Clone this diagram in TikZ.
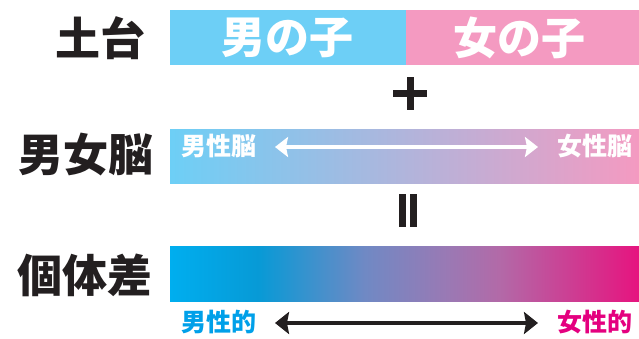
\documentclass[tikz,border=0pt]{standalone}
\usepackage{fontspec}
\usetikzlibrary{arrows.meta}
\newfontfamily\cjkblk{Noto Sans CJK JP Black}
\newfontfamily\cjkbold{Noto Sans CJK JP Bold}
\definecolor{boyblue}{HTML}{6DCFF6}
\definecolor{girlpink}{HTML}{F49AC1}
\definecolor{labelgray}{HTML}{231F20}
\definecolor{cA}{HTML}{00AEEF}
\definecolor{cB}{HTML}{079AD6}
\definecolor{cC}{HTML}{7089C4}
\definecolor{cD}{HTML}{9A79B4}
\definecolor{cE}{HTML}{B26AA8}
\definecolor{cF}{HTML}{E6147F}
\definecolor{textcyan}{HTML}{00A0E9}
\definecolor{textmag}{HTML}{E4007F}
\pgfdeclarehorizontalshading{barthree}{100bp}{color(0bp)=(cA); color(25bp)=(cA); color(34.4bp)=(cB); color(45.8bp)=(cC); color(54.6bp)=(cD); color(60bp)=(cE); color(75bp)=(cF); color(100bp)=(cF)}
\tikzset{
  rowlabel/.style={inner sep=0pt, text=labelgray, font=\cjkblk\fontsize{45pt}{45pt}\selectfont},
  barlabel/.style={inner sep=0pt, text=white, font=\cjkblk\fontsize{44pt}{44pt}\selectfont},
  smalllabel/.style={inner sep=0pt, font=\cjkblk\fontsize{25pt}{25pt}\selectfont},
  whitearrow/.style={line width=3.3pt, white, {Stealth[length=13pt,width=20pt,inset=2pt]}-{Stealth[length=13pt,width=20pt,inset=2pt]}},
  blackarrow/.style={line width=4pt, labelgray, {Stealth[length=14pt,width=22pt,inset=2pt]}-{Stealth[length=14pt,width=22pt,inset=2pt]}},
  symbolbar/.style={fill=labelgray, draw=none}
}
\begin{document}
\begin{tikzpicture}[x=1pt,y=-1pt]
\useasboundingbox (0,0) rectangle (639,338);
% bar 1
\fill[boyblue] (170,10) rectangle (406,65);
\fill[girlpink] (406,10) rectangle (639,65);
\node[rowlabel] (base) at (100.5,38) {土台};
\node[barlabel] (boy) at (287,38) {男の子};
\node[barlabel] (girl) at (519,38) {女の子};
% plus
\fill[symbolbar] (393,89.5) rectangle (427,96.5);
\fill[symbolbar] (406.5,77) rectangle (413.5,110);
% bar 2
\shade[left color=boyblue, right color=girlpink] (170,129) rectangle (639,183);
\node[rowlabel] (brain) at (85.5,155) {男女脳};
\node[smalllabel, text=white] (mbrain) at (218.5,146) {男性脳};
\node[smalllabel, text=white] (fbrain) at (594.5,146) {女性脳};
\coordinate (a1) at (275,147);
\coordinate (a2) at (538,147);
\draw[whitearrow] (a1) -- (a2);
% equals (vertical)
\fill[symbolbar] (399,194) rectangle (406,227);
\fill[symbolbar] (410,194) rectangle (417,227);
% bar 3
\shade[shading=barthree] (170,246) rectangle (639,301);
\node[rowlabel] (indiv) at (84.5,275) {個体差};
\node[smalllabel, text=textcyan] (masc) at (218.5,322) {男性的};
\node[smalllabel, text=textmag] (fem) at (594.5,322) {女性的};
\coordinate (b1) at (275,323);
\coordinate (b2) at (538,323);
\draw[blackarrow] (b1) -- (b2);
\end{tikzpicture}
\end{document}
